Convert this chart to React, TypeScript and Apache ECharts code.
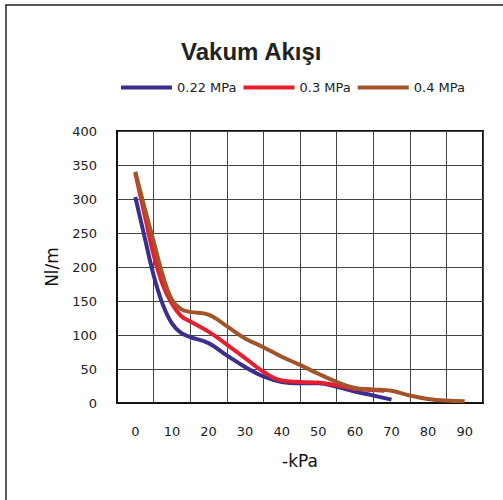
import React, { useEffect, useRef } from "react";
import * as echarts from "echarts";

const xTickLabels = ["0", "10", "20", "30", "40", "50", "60", "70", "80", "90"];
const seriesNames = ["0.22 MPa", "0.3 MPa", "0.4 MPa"];
const seriesColors = ["#3b2e8c", "#e61e2e", "#a3552a"];

const blue: [number, number][] = [
  [0, 303], [2.5, 245], [5, 188], [7.5, 145], [10, 117], [12.5, 103], [15, 97],
  [20, 88], [25, 70], [30, 53], [35, 39], [40, 31], [45, 29], [50, 29], [55, 24],
  [60, 17], [65, 11], [70, 5],
];
const red: [number, number][] = [
  [0, 338], [2.5, 278], [5, 218], [7.5, 174], [10, 146], [12.5, 128], [15, 120],
  [20, 105], [25, 86], [30, 66], [35, 46], [40, 33], [45, 31], [50, 30], [55, 26],
  [60, 21], [65, 19], [68, 18],
];
const brown: [number, number][] = [
  [0, 340], [2.5, 288], [5, 238], [7.5, 188], [10, 152], [12.5, 138], [15, 134],
  [20, 130], [25, 113], [30, 95], [35, 82], [40, 68], [45, 56], [50, 43], [55, 31],
  [60, 22], [65, 20], [70, 18], [75, 11], [80, 6], [85, 3.5], [90, 2.5],
];
const seriesData = [blue, red, brown];

export default function App() {
  const ref = useRef<HTMLDivElement>(null);
  useEffect(() => {
    if (!ref.current) return;
    const chart = echarts.init(ref.current, undefined, { renderer: "svg" });
    const font = "DejaVu Sans";
    chart.setOption({
      animation: false,
      backgroundColor: "#fff",
      title: {
        text: "Vakum Akışı",
        left: 176,
        top: 34,
        textStyle: { fontFamily: "Liberation Sans", fontWeight: "bold", fontSize: 24, color: "#222" },
      },
      legend: {
        left: 116,
        top: 76,
        itemWidth: 51,
        itemHeight: 4,
        itemGap: 7,
        icon: "rect",
        data: seriesNames,
        textStyle: { fontFamily: font, fontSize: 13, color: "#222", padding: [0, 0, 0, 0] },
      },
      graphic: [
        {
          type: "rect",
          shape: { x: 6, y: 5, width: 600, height: 600 },
          style: { fill: "none", stroke: "#222", lineWidth: 1.5 },
          silent: true,
        },
      ],
      grid: {
        left: 117,
        right: 20,
        top: 131,
        bottom: 97,
        show: true,
        borderColor: "#111",
        borderWidth: 2,
        containLabel: false,
      },
      xAxis: [
        {
          type: "category",
          data: xTickLabels,
          boundaryGap: true,
          name: "-kPa",
          nameLocation: "middle",
          nameGap: 49,
          nameTextStyle: { fontFamily: font, fontSize: 17, color: "#111", verticalAlign: "top" },
          axisLine: { show: true, onZero: false, lineStyle: { color: "#111", width: 2 } },
          axisTick: { show: false },
          axisLabel: { margin: 22, fontFamily: font, fontSize: 13, color: "#222", interval: 0 },
          splitLine: { show: true, interval: 0, lineStyle: { color: "#444", width: 1 } },
        },
        {
          type: "value",
          min: -5,
          max: 95,
          show: false,
          axisLine: { onZero: false },
          splitLine: { show: false },
        },
      ],
      yAxis: {
        type: "value",
        min: 0,
        max: 400,
        interval: 50,
        name: "Nl/m",
        nameLocation: "middle",
        nameGap: 57,
        nameTextStyle: { fontFamily: font, fontSize: 17, color: "#111" },
        axisLine: { show: true, onZero: false, lineStyle: { color: "#111", width: 2 } },
        axisTick: { show: false },
        axisLabel: { margin: 20, fontFamily: font, fontSize: 13, color: "#222" },
        splitLine: { show: true, lineStyle: { color: "#444", width: 1 } },
      },
      series: seriesData.map((d, i) => ({
        name: seriesNames[i],
        type: "line",
        xAxisIndex: 1,
        data: d,
        smooth: 0.4,
        showSymbol: false,
        symbol: "none",
        lineStyle: { color: seriesColors[i], width: 4 },
        itemStyle: { color: seriesColors[i] },
      })),
    });
    return () => chart.dispose();
  }, []);
  return (
    <div
      ref={ref}
      style={{ position: "absolute", left: 0, top: 0, width: 503, height: 500 }}
    />
  );
}
